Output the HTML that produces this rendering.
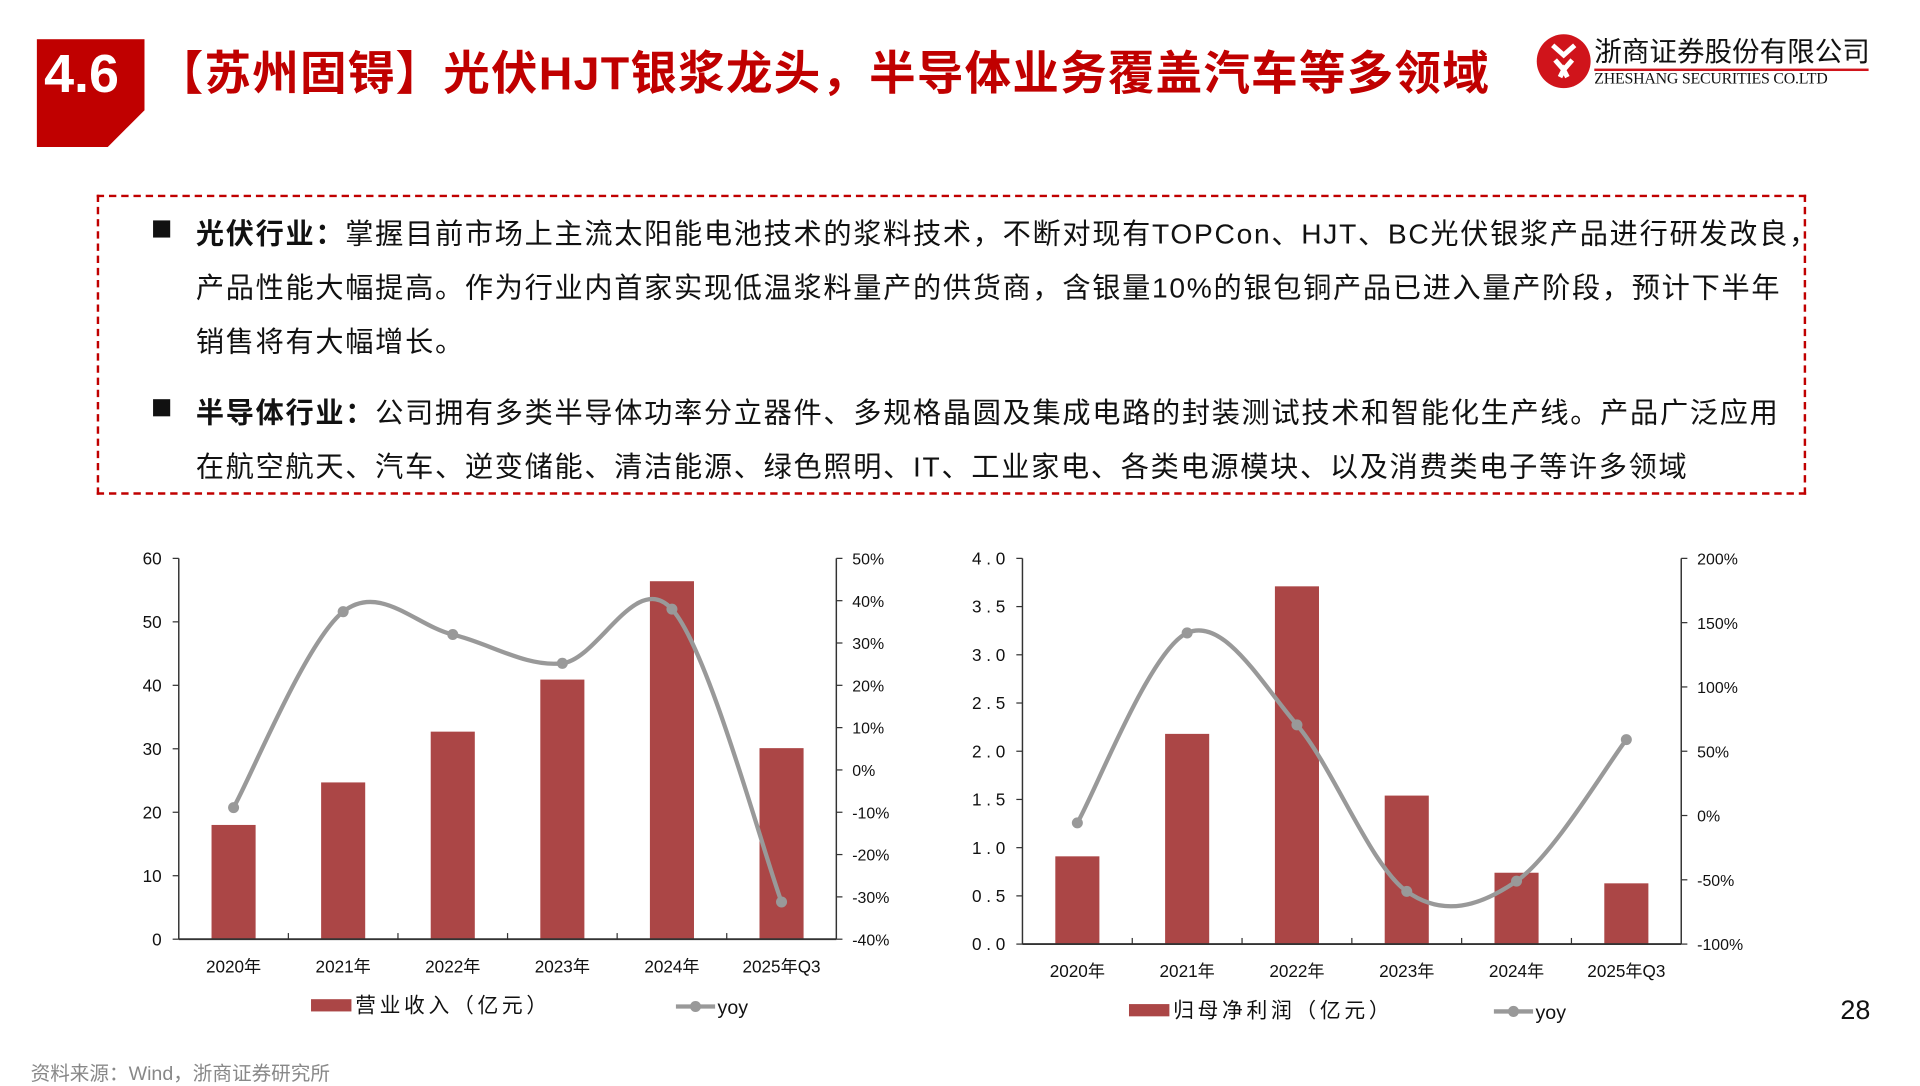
<!DOCTYPE html>
<html><head><meta charset="utf-8">
<style>
html,body{margin:0;padding:0;background:#fff;width:1920px;height:1080px;overflow:hidden}
#wrap{position:absolute;left:0;top:0;width:1568px;height:882px;transform:scale(1.2245);transform-origin:0 0;font-family:"Liberation Sans","Noto Sans CJK SC",sans-serif}
.abs{position:absolute}
.t{font-size:23px;color:#111;white-space:nowrap;letter-spacing:1.4px}
</style></head><body>
<div id="wrap">
<svg class="abs" style="left:30px;top:32px" width="90" height="90"><polygon points="0,0 88,0 88,58 58,88 0,88" fill="#c00000"/></svg>
<div class="abs" style="left:36px;top:36px;font-size:44px;font-weight:bold;color:#fff">4.6</div>
<div class="abs" style="left:128px;top:29px;font-size:38px;font-weight:bold;color:#c00000;white-space:nowrap;letter-spacing:1px">【苏州固锝】光伏HJT银浆龙头，半导体业务覆盖汽车等多领域</div>
<svg class="abs" style="left:1254px;top:27px" width="46" height="46"><circle cx="23" cy="23" r="22" fill="#d0141b"/><path d="M14 10 L23 18 L32 10 M16 22 L23 30 L30 22 M20 36 L23 30 L26 36" stroke="#fff" stroke-width="4" fill="none"/></svg>
<div class="abs" style="left:1302px;top:27px;font-size:22.5px;color:#111;font-family:'Noto Sans CJK SC',sans-serif;white-space:nowrap;line-height:28px">浙商证券股份有限公司</div>
<div class="abs" style="left:1302px;top:56px;width:224px;height:2px;background:#d0141b"></div>
<div class="abs" style="left:1302px;top:57px;font-size:13px;line-height:14px;color:#111;font-family:'Liberation Serif',serif;white-space:nowrap;letter-spacing:-0.2px">ZHESHANG SECURITIES CO.LTD</div>

<div class="abs" style="left:79px;top:159px;width:1392px;height:241px;border:2px dashed #c00000"></div>
<div class="abs" style="left:125px;top:180px;width:14px;height:14px;background:#111"></div>
<div class="abs t" style="left:160px;top:172px"><b>光伏行业：</b>掌握目前市场上主流太阳能电池技术的浆料技术，不断对现有TOPCon、HJT、BC光伏银浆产品进行研发改良，</div>
<div class="abs t" style="left:160px;top:216px">产品性能大幅提高。作为行业内首家实现低温浆料量产的供货商，含银量10%的银包铜产品已进入量产阶段，预计下半年</div>
<div class="abs t" style="left:160px;top:260px">销售将有大幅增长。</div>
<div class="abs" style="left:125px;top:326px;width:14px;height:14px;background:#111"></div>
<div class="abs t" style="left:160px;top:318px"><b>半导体行业：</b>公司拥有多类半导体功率分立器件、多规格晶圆及集成电路的封装测试技术和智能化生产线。产品广泛应用</div>
<div class="abs t" style="left:160px;top:362px">在航空航天、汽车、逆变储能、清洁能源、绿色照明、IT、工业家电、各类电源模块、以及消费类电子等许多领域</div>

<svg id="charts" class="abs" style="left:0;top:0" width="1568" height="882"></svg>
<div class="abs" style="left:1503px;top:812px;font-size:22px;color:#111">28</div>
<div class="abs" style="left:25px;top:863px;font-size:16px;color:#888;white-space:nowrap">资料来源：Wind，浙商证券研究所</div>
</div>
<script>
const cats=["2020年","2021年","2022年","2023年","2024年","2025年Q3"];
const revenue=[18.0,24.7,32.7,40.9,56.4,30.1];
const revYoy=[-8.9,37.4,32.0,25.2,38.0,-31.2];
const profit=[0.91,2.18,3.71,1.54,0.74,0.63];
const profitYoy=[-5.7,142,70.5,-59,-51,59];
const revTicks=[0,10,20,30,40,50,60];
const revYoyTicks=[-40,-30,-20,-10,0,10,20,30,40,50];
const profitTicks=[0,0.5,1,1.5,2,2.5,3,3.5,4];
const profitYoyTicks=[-100,-50,0,50,100,150,200];

const NS="http://www.w3.org/2000/svg";
const svg=document.getElementById('charts');
function mk(tag,attrs,parent,text){const e=document.createElementNS(NS,tag);for(const k in attrs)e.setAttribute(k,attrs[k]);if(text!==undefined)e.textContent=text;(parent||svg).appendChild(e);return e;}
function spline(pts){let d="M"+pts[0][0]+","+pts[0][1];const t=1/6;
 for(let i=0;i<pts.length-1;i++){const p0=pts[i-1]||pts[i],p1=pts[i],p2=pts[i+1],p3=pts[i+2]||p2;
  const c1=[p1[0]+(p2[0]-p0[0])*t,p1[1]+(p2[1]-p0[1])*t],c2=[p2[0]-(p3[0]-p1[0])*t,p2[1]-(p3[1]-p1[1])*t];
  d+=` C${c1[0]},${c1[1]} ${c2[0]},${c2[1]} ${p2[0]},${p2[1]}`;}return d;}

function chart(o){
 const g=mk('g',{});
 
 
 const n=o.cats.length, bw=(o.x1-o.x0)/n;
 const yL=v=>o.y0-(v-o.lmin)/(o.lmax-o.lmin)*(o.y0-o.y1);
 const yR=v=>o.y0-(v-o.rmin)/(o.rmax-o.rmin)*(o.y0-o.y1);
 const xc=i=>o.x0+bw*(i+0.5);
 o.bars.forEach((v,i)=>{const b=mk('rect',{x:xc(i)-18,y:yL(v),width:36,height:o.y0-yL(v),fill:'#ab4646'},g);
  
  });
 mk('line',{x1:o.x0,y1:o.y1,x2:o.x0,y2:o.y0,stroke:'#333','stroke-width':1.2},g);
 mk('line',{x1:o.x1,y1:o.y1,x2:o.x1,y2:o.y0,stroke:'#333','stroke-width':1.2},g);
 mk('line',{x1:o.x0,y1:o.y0,x2:o.x1,y2:o.y0,stroke:'#333','stroke-width':1.5},g);
 for(let i=1;i<n;i++)mk('line',{x1:o.x0+bw*i,y1:o.y0,x2:o.x0+bw*i,y2:o.y0-5,stroke:'#333'},g);
 o.lticks.forEach(v=>{mk('line',{x1:o.x0-5,y1:yL(v),x2:o.x0,y2:yL(v),stroke:'#333'},g);
  const t=mk('text',{x:o.x0-14,y:yL(v)+5,'text-anchor':'end','font-size':14,fill:'#111'},g,o.lfmt(v));
  
  });
 o.rticks.forEach(v=>{mk('line',{x1:o.x1,y1:yR(v),x2:o.x1+5,y2:yR(v),stroke:'#333'},g);
  const t=mk('text',{x:o.x1+13,y:yR(v)+5,'font-size':13,fill:'#111'},g,v+'%');
  
  });
 o.cats.forEach((c,i)=>{const t=mk('text',{x:xc(i),y:o.y0+27,'text-anchor':'middle','font-size':14,fill:'#111'},g,c);
  
  });
 const pts=o.line.map((v,i)=>[xc(i),yR(v)]);
 const p=mk('path',{d:spline(pts),fill:'none',stroke:'#999','stroke-width':3.5},g);
 
 
 pts.forEach(q=>{const c=mk('circle',{cx:q[0],cy:q[1],r:4.5,fill:'#999'},g);
  
  });
 const ly=o.y0+55;
 mk('rect',{x:o.lgx,y:ly-6,width:33,height:10,fill:'#ab4646'},g);
 const l1=mk('text',{x:o.lgx+36,y:ly+5,'font-size':17,fill:'#111','letter-spacing':'3'},g,o.barLabel);
 
 
 mk('line',{x1:o.lgx+298,y1:ly,x2:o.lgx+330,y2:ly,stroke:'#999','stroke-width':3.5},g);
 mk('circle',{cx:o.lgx+314,cy:ly,r:4.5,fill:'#999'},g);
 const l2=mk('text',{x:o.lgx+332,y:ly+6,'font-size':16,fill:'#111'},g,'yoy');
 
 
}
chart({name:'revenue-chart',cats:cats,bars:revenue,line:revYoy,x0:146,x1:683,y0:767,y1:456,lmin:0,lmax:60,rmin:-40,rmax:50,lticks:revTicks,rticks:revYoyTicks,lfmt:v=>String(v),lgx:254,barLabel:'营业收入（亿元）'});
chart({name:'profit-chart',cats:cats,bars:profit,line:profitYoy,x0:835,x1:1373,y0:771,y1:456,lmin:0,lmax:4,rmin:-100,rmax:200,lticks:profitTicks,rticks:profitYoyTicks,lfmt:v=>v.toFixed(1).split('').join(' '),lgx:922,barLabel:'归母净利润（亿元）'});
</script>
</body></html>
